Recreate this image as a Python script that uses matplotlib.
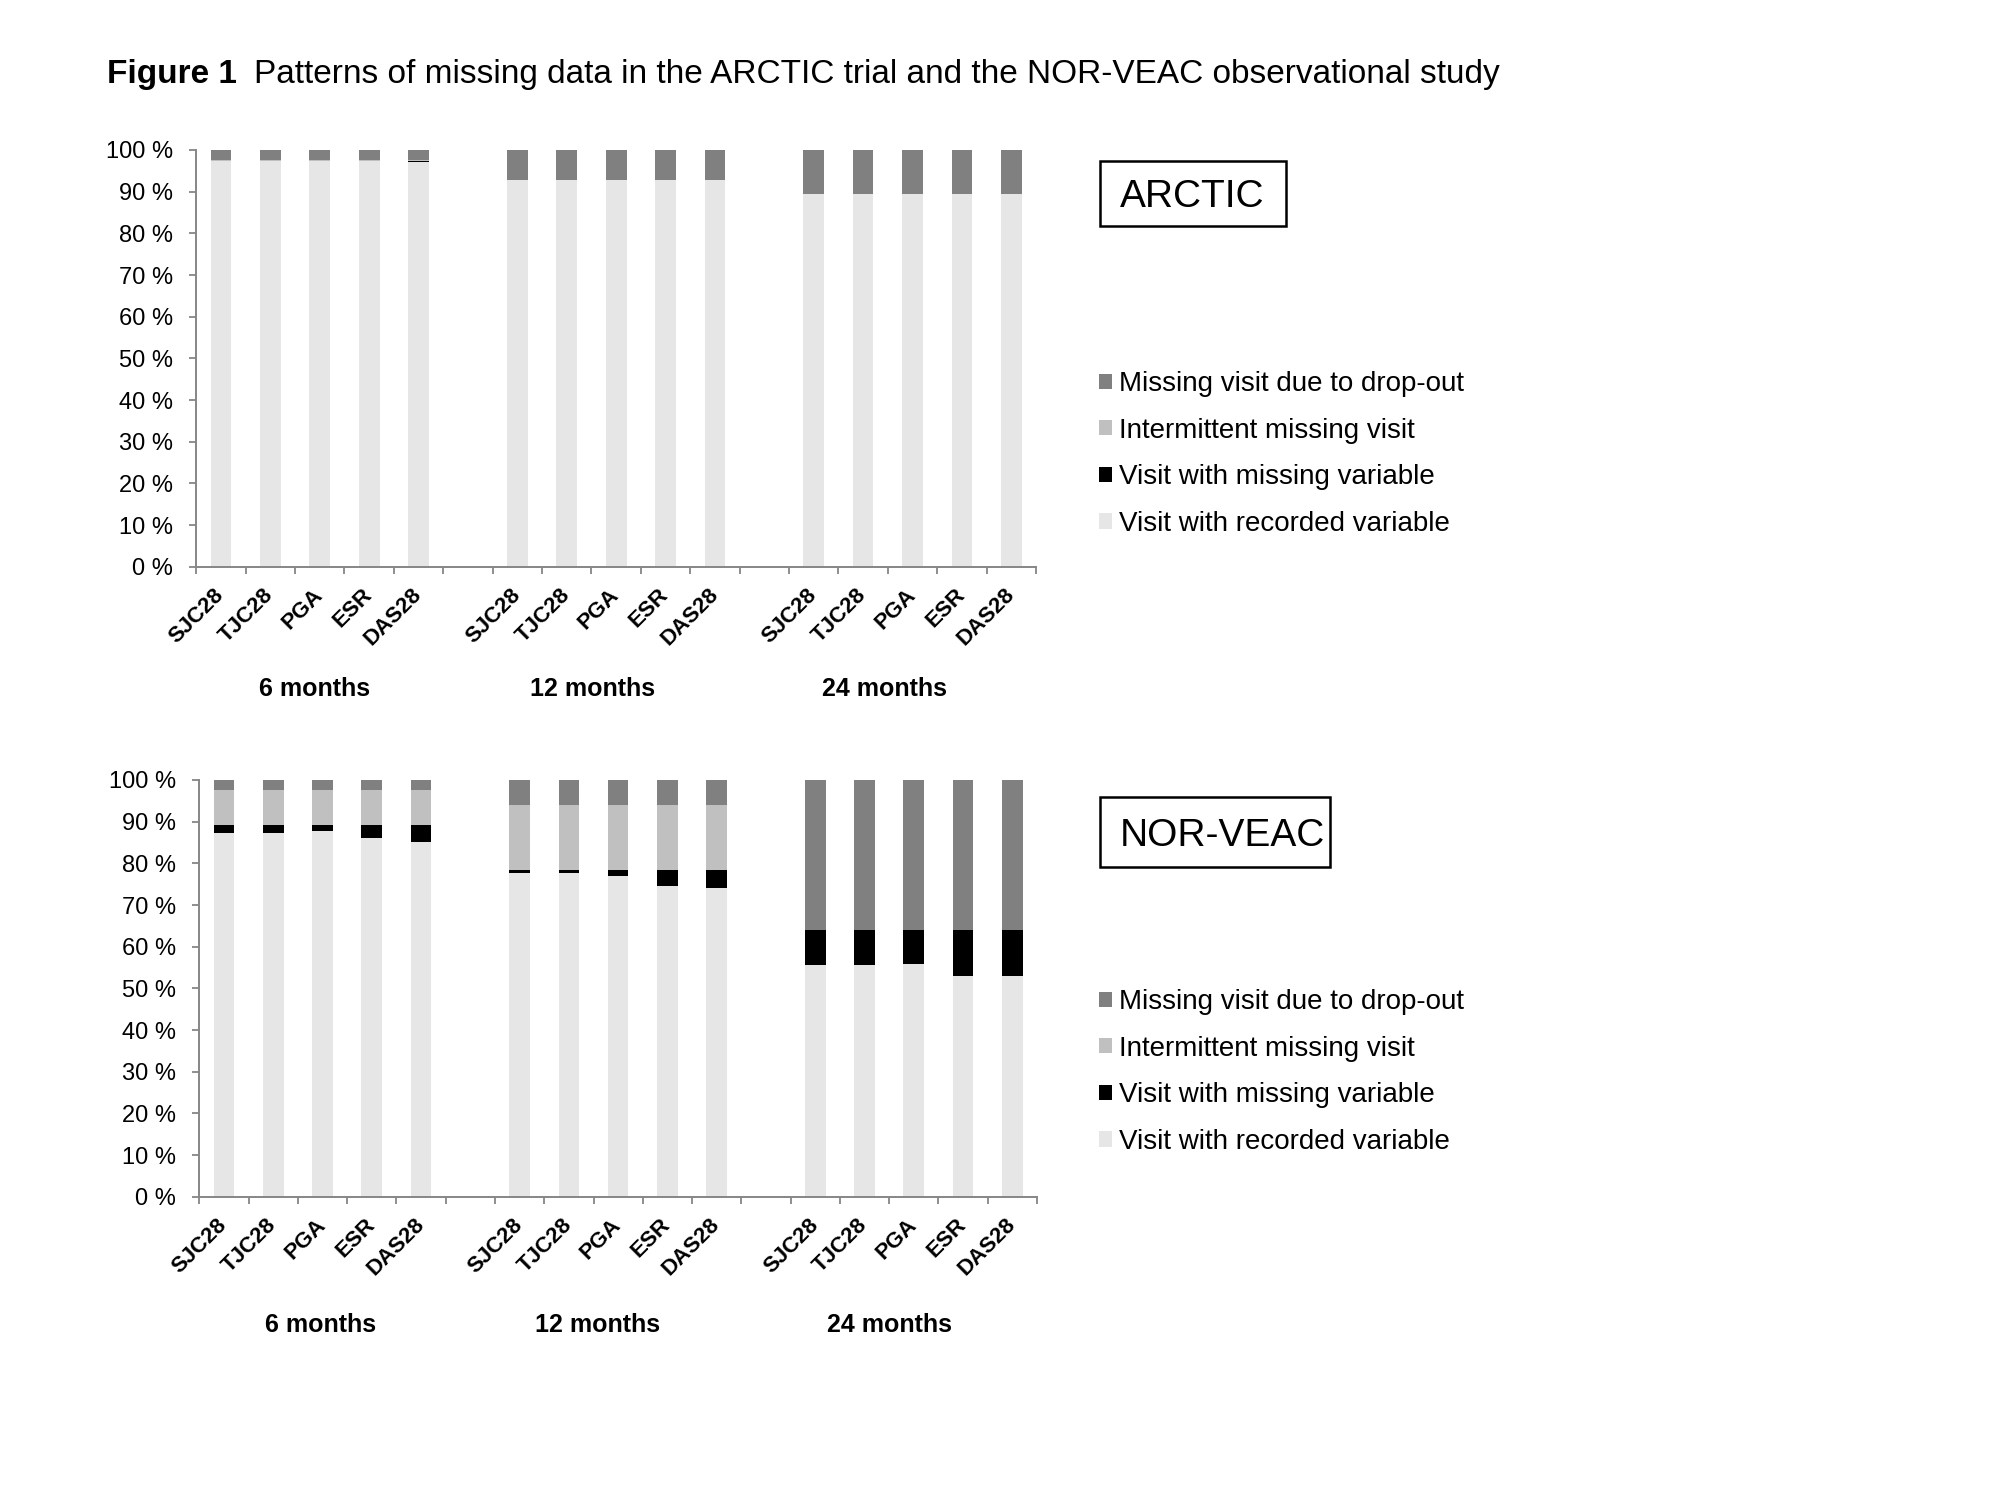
import matplotlib
matplotlib.use('Agg')
import matplotlib.pyplot as plt
from matplotlib.patches import Patch, Rectangle
from matplotlib.transforms import blended_transform_factory

plt.rcParams['font.family'] = ['Liberation Sans', 'DejaVu Sans']

# variable order repeats for each follow-up visit
variables = ["SJC28", "TJC28", "PGA", "ESR", "DAS28"]
timepoints = ["6 months", "12 months", "24 months"]

series_names = ["Visit with recorded variable", "Visit with missing variable",
                "Intermittent missing visit", "Missing visit due to drop-out"]
series_colors = ["#e6e6e6", "#000000", "#c0c0c0", "#808080"]

# ARCTIC (%), 15 bars = 5 variables x 3 timepoints
arctic_recorded = [97.4, 97.4, 97.4, 97.4, 97.1,
                   92.8, 92.8, 92.8, 92.8, 92.8,
                   89.4, 89.4, 89.4, 89.4, 89.4]
arctic_missing_var = [0.0, 0.0, 0.0, 0.0, 0.3,
                      0.0, 0.0, 0.0, 0.0, 0.0,
                      0.0, 0.0, 0.0, 0.0, 0.0]
arctic_intermittent = [0.3, 0.3, 0.3, 0.3, 0.3,
                       0.0, 0.0, 0.0, 0.0, 0.0,
                       0.0, 0.0, 0.0, 0.0, 0.0]
arctic_dropout = [2.3, 2.3, 2.3, 2.3, 2.3,
                  7.2, 7.2, 7.2, 7.2, 7.2,
                  10.6, 10.6, 10.6, 10.6, 10.6]

# NOR-VEAC (%)
norveac_recorded = [87.2, 87.2, 87.7, 86.0, 85.2,
                    77.8, 77.8, 77.0, 74.6, 74.1,
                    55.6, 55.6, 55.8, 53.0, 53.0]
norveac_missing_var = [2.1, 2.1, 1.6, 3.3, 4.1,
                       0.6, 0.6, 1.4, 3.8, 4.3,
                       8.4, 8.4, 8.2, 11.0, 11.0]
norveac_intermittent = [8.2, 8.2, 8.2, 8.2, 8.2,
                        15.6, 15.6, 15.6, 15.6, 15.6,
                        0.0, 0.0, 0.0, 0.0, 0.0]
norveac_dropout = [2.5, 2.5, 2.5, 2.5, 2.5,
                   6.0, 6.0, 6.0, 6.0, 6.0,
                   36.0, 36.0, 36.0, 36.0, 36.0]

studies = [
    ("ARCTIC", [arctic_recorded, arctic_missing_var, arctic_intermittent, arctic_dropout]),
    ("NOR-VEAC", [norveac_recorded, norveac_missing_var, norveac_intermittent, norveac_dropout]),
]

W, H = 2000, 1500
fig = plt.figure(figsize=(20, 15), dpi=100)

# axes boxes in pixels: left, top, right, bottom
ax_boxes = [(196.3, 150, 1036, 566.7), (199.3, 780, 1037, 1196.7)]
study_boxes = [(1099.5, 160.7, 1286, 225.8), (1099.5, 797, 1330, 867)]
legend_centers = [454, 1072]
label_offsets = [-0.294, -0.308]
label_shift = [1.9, 1.53, 1.44]   # group label x inside each group (category units)
label_extra = [0.0, 0.06]

spine_col = "#868686"
xpos = [g * 6 + j for g in range(len(timepoints)) for j in range(len(variables))]
xlabels = variables * len(timepoints)

for k, (name, vals) in enumerate(studies):
    l, t, r, b = ax_boxes[k]
    ax = fig.add_axes([l / W, 1 - b / H, (r - l) / W, (b - t) / H])
    bottom = [0.0] * len(xpos)
    handles = []
    for sname, col, v in zip(series_names, series_colors, vals):
        ax.bar(xpos, v, width=0.42, bottom=bottom, color=col, linewidth=0)
        bottom = [a + c for a, c in zip(bottom, v)]
        handles.append(Patch(facecolor=col, edgecolor='none', label=sname))

    ax.set_xlim(-0.5, 16.5)
    ax.set_ylim(0, 100)
    ax.set_yticks(range(0, 101, 10))
    ax.set_yticklabels([f"{v} %" for v in range(0, 101, 10)], fontsize=17)
    ax.set_xticks(xpos)
    ax.set_xticklabels(xlabels, fontsize=16, fontweight='bold', rotation=45,
                       ha='right', va='center', rotation_mode='anchor')
    ax.set_xticks([i - 0.5 for i in range(18)], minor=True)
    ax.tick_params(axis='x', which='major', length=0, pad=18)
    ax.tick_params(axis='x', which='minor', length=5, width=1.3, color=spine_col)
    ax.tick_params(axis='y', length=5, width=1.3, color=spine_col, pad=12)
    for s in ['top', 'right']:
        ax.spines[s].set_visible(False)
    for s in ['left', 'bottom']:
        ax.spines[s].set_color(spine_col)
        ax.spines[s].set_linewidth(1.4)

    trans = blended_transform_factory(ax.transData, ax.transAxes)
    for g, tp in enumerate(timepoints):
        ax.text(g * 6 + label_shift[g] + label_extra[k], label_offsets[k], tp,
                transform=trans, ha='center', va='center', fontsize=18, fontweight='bold')

    # study name box
    bl, bt, br, bb = study_boxes[k]
    fig.add_artist(Rectangle((bl / W, 1 - bb / H), (br - bl) / W, (bb - bt) / H,
                             fill=False, edgecolor='black', linewidth=1.8,
                             transform=fig.transFigure))
    fig.text((bl + 20) / W, 1 - ((bt + bb) / 2 + 4) / H, name, fontsize=28,
             ha='left', va='center')

    ax.legend(handles[::-1], [h.get_label() for h in handles[::-1]],
              loc='center left', bbox_to_anchor=(1099 / W, 1 - legend_centers[k] / H),
              bbox_transform=fig.transFigure, frameon=False, fontsize=20,
              handlelength=0.47, handleheight=0.47, handletextpad=0.25,
              labelspacing=0.74, borderpad=0, borderaxespad=0)

# title: bold "Figure 1" followed by regular text
t1 = fig.text(107 / W, 1 - 75 / H, "Figure 1", fontsize=24, fontweight='bold', va='center')
fig.canvas.draw()
bb1 = t1.get_window_extent()
fig.text((bb1.x1 + 17) / W, 1 - 75 / H,
         "Patterns of missing data in the ARCTIC trial and the NOR-VEAC observational study",
         fontsize=24, va='center')

fig.savefig("out.png", dpi=100)
